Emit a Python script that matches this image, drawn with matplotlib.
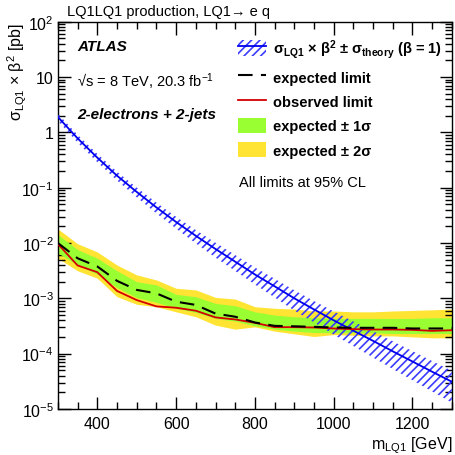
import numpy as np
import matplotlib
matplotlib.use('Agg')
import matplotlib.pyplot as plt
from matplotlib.patches import Patch
from matplotlib.lines import Line2D
from matplotlib.ticker import FixedLocator, MultipleLocator, LogLocator, FuncFormatter, NullFormatter

plt.rcParams['font.family'] = ['Liberation Sans', 'DejaVu Sans']
plt.rcParams['mathtext.fontset'] = 'custom'
plt.rcParams['mathtext.rm'] = 'Liberation Sans'
plt.rcParams['mathtext.it'] = 'Liberation Sans:italic'
plt.rcParams['mathtext.bf'] = 'Liberation Sans:bold'
plt.rcParams['hatch.linewidth'] = 1.2

# LQ mass points [GeV]
mass = [300, 350, 400, 450, 500, 550, 600, 650, 700, 750, 800,
        850, 900, 950, 1000, 1050, 1100, 1150, 1200, 1250, 1300]

# theory cross section x beta^2 [pb] and its relative uncertainty
theory = [1.9, 0.78, 0.35, 0.165, 0.084, 0.044, 0.024, 0.0135, 0.0078, 0.0046, 0.0027,
          0.00165, 0.001, 0.00063, 0.0004, 0.00026, 0.00017, 0.00011, 7.2e-5, 4.7e-5, 3.1e-5]
theory_unc = [0.15, 0.16, 0.17, 0.18, 0.20, 0.22, 0.24, 0.27, 0.30, 0.32, 0.34,
              0.37, 0.40, 0.42, 0.45, 0.47, 0.50, 0.52, 0.54, 0.56, 0.58]

# limits [pb]
expected = [1.0e-2, 5.3e-3, 3.77e-3, 2.07e-3, 1.42e-3, 1.23e-3, 8.7e-4, 7.6e-4, 5.3e-4, 4.65e-4, 3.66e-4,
            3.18e-4, 3.12e-4, 3.05e-4, 2.97e-4, 2.93e-4, 2.93e-4, 2.93e-4, 2.85e-4, 2.85e-4, 2.85e-4]
observed = [9.6e-3, 3.93e-3, 2.97e-3, 1.36e-3, 9.3e-4, 7.15e-4, 6.76e-4, 5.97e-4, 4.52e-4, 4.15e-4, 3.61e-4,
            3.01e-4, 3.01e-4, 2.97e-4, 2.85e-4, 2.77e-4, 2.73e-4, 2.73e-4, 2.69e-4, 2.58e-4, 2.65e-4]
exp_1s_hi = [1.42e-2, 7.6e-3, 5.3e-3, 3.15e-3, 2.0e-3, 1.75e-3, 1.18e-3, 1.07e-3, 8.1e-4, 7.35e-4, 5.7e-4,
             4.98e-4, 4.65e-4, 4.45e-4, 4.33e-4, 4.33e-4, 4.33e-4, 4.33e-4, 4.33e-4, 4.45e-4, 4.45e-4]
exp_1s_lo = [6.6e-3, 4.0e-3, 2.73e-3, 1.56e-3, 1.03e-3, 8.45e-4, 6.6e-4, 5.56e-4, 4.33e-4, 3.87e-4, 3.18e-4,
             2.77e-4, 2.55e-4, 2.41e-4, 2.38e-4, 2.38e-4, 2.38e-4, 2.31e-4, 2.31e-4, 2.31e-4, 2.31e-4]
exp_2s_hi = [1.8e-2, 9.7e-3, 6.9e-3, 4.0e-3, 2.65e-3, 2.15e-3, 1.52e-3, 1.42e-3, 1.04e-3, 9.7e-4, 7.05e-4,
             6.6e-4, 6.4e-4, 5.9e-4, 5.9e-4, 5.7e-4, 5.7e-4, 5.9e-4, 6.05e-4, 6.2e-4, 6.4e-4]
exp_2s_lo = [5.3e-3, 3.15e-3, 2.31e-3, 1.07e-3, 7.8e-4, 7.05e-4, 5.7e-4, 4.65e-4, 3.27e-4, 2.77e-4, 3.05e-4,
             2.55e-4, 2.28e-4, 2.04e-4, 2.21e-4, 2.15e-4, 2.09e-4, 2.09e-4, 2.01e-4, 1.93e-4, 1.93e-4]

y_ticks = [1e-5, 1e-4, 1e-3, 1e-2, 1e-1, 1, 10, 100]
x_ticks = [400, 600, 800, 1000, 1200]

blue = '#0000ee'
hatch_blue = '#3c3cff'
green = '#99ff33'
yellow = '#ffe433'
red = '#d40000'

fig = plt.figure(figsize=(4.56, 4.56), dpi=100)
ax = fig.add_axes([0.127, 0.101, 0.864, 0.849])

th = np.array(theory)
unc = np.array(theory_unc)
ax.fill_between(mass, exp_2s_lo, exp_2s_hi, color=yellow, lw=0, zorder=1)
ax.fill_between(mass, exp_1s_lo, exp_1s_hi, color=green, lw=0, zorder=2)
ax.fill_between(mass, th * (1 - unc), th * (1 + unc), facecolor='none', edgecolor=hatch_blue,
                hatch='////', lw=0, zorder=3)
ax.plot(mass, theory, color=blue, lw=1.3, zorder=4)
ax.plot(mass, observed, color=red, lw=1.3, zorder=5)
ax.plot(mass, expected, color='black', lw=1.5, dashes=(7, 4), zorder=6)

ax.set_yscale('log')
ax.set_xlim(300, 1300)
ax.set_ylim(1e-5, 1e2)

ax.xaxis.set_major_locator(FixedLocator(x_ticks))
ax.xaxis.set_minor_locator(MultipleLocator(50))
ax.yaxis.set_major_locator(FixedLocator(y_ticks))
ax.yaxis.set_minor_locator(LogLocator(base=10, subs=np.arange(2, 10), numticks=20))
ax.yaxis.set_minor_formatter(NullFormatter())


def yfmt(v, pos):
    n = int(round(np.log10(v)))
    if n == 0:
        return '1'
    if n == 1:
        return '10'
    return r'$\mathregular{10^{%d}}$' % n


ax.yaxis.set_major_formatter(FuncFormatter(yfmt))
ax.tick_params(which='both', direction='in', top=True, right=True, labelsize=11.5, width=1)
ax.tick_params(which='major', length=9)
ax.tick_params(which='minor', length=5)
ax.tick_params(axis='x', pad=5)
ax.tick_params(axis='y', pad=3)
for s in ax.spines.values():
    s.set_linewidth(1)

# legend
h_theory = (Patch(facecolor='none', edgecolor=hatch_blue, hatch='////', lw=0),
            Line2D([], [], color=blue, lw=1.3))
h_exp = Line2D([], [], color='black', lw=1.5, dashes=(7, 4))
h_obs = Line2D([], [], color=red, lw=1.3)
h_1s = Patch(facecolor=green, lw=0)
h_2s = Patch(facecolor=yellow, lw=0)
labels = [r'σ$_{\mathbf{LQ1}}$ × β$^{\mathbf{2}}$ ± σ$_{\mathbf{theory}}$ (β = 1)',
          'expected limit', 'observed limit', 'expected ± 1σ', 'expected ± 2σ']
ax.legend([h_theory, h_exp, h_obs, h_1s, h_2s], labels, loc='upper left',
          bbox_to_anchor=(0.458, 0.96), frameon=False, borderpad=0, borderaxespad=0,
          prop={'weight': 'bold', 'size': 10.5}, handlelength=1.9, handleheight=1.25,
          labelspacing=0.6, handletextpad=0.5)
ax.text(0.46, 0.587, 'All limits at 95% CL', transform=ax.transAxes, va='center', fontsize=10.5)

ax.text(0.048, 0.938, 'ATLAS', transform=ax.transAxes, va='center',
        fontsize=11, fontweight='bold', fontstyle='italic')
ax.text(0.048, 0.848, r'√s = 8 TeV, 20.3 fb$^{\mathregular{-1}}$', transform=ax.transAxes,
        va='center', fontsize=10.5)
ax.text(0.048, 0.762, '2-electrons + 2-jets', transform=ax.transAxes, va='center',
        fontsize=11, fontweight='bold', fontstyle='italic')

fig.text(0.147, 0.974, 'LQ1LQ1 production, LQ1→ e q', va='center', fontsize=10.5)
ax.text(1.0, -0.092, r'm$_{\mathregular{LQ1}}$ [GeV]', transform=ax.transAxes,
        ha='right', va='center', fontsize=11.5)
ax.text(-0.102, 1.0, r'σ$_{\mathregular{LQ1}}$ × β$^{\mathregular{2}}$ [pb]', transform=ax.transAxes,
        ha='center', va='top', rotation=90, fontsize=11.5)

fig.savefig('out.png', dpi=100)
